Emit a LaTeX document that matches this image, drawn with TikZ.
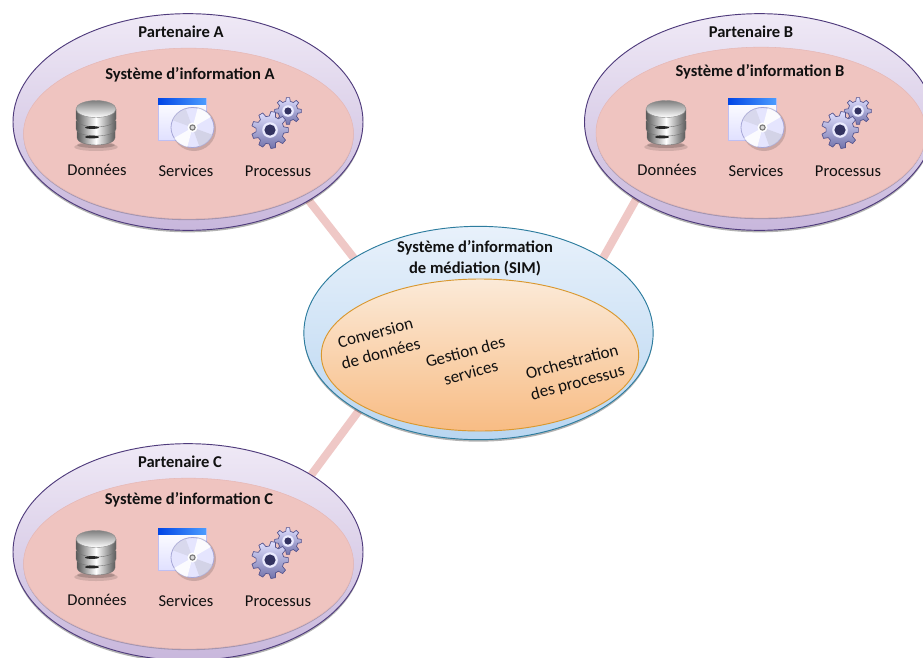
\documentclass[tikz,border=0pt]{standalone}
\usepackage{fontspec}
\setmainfont{Carlito}
\usetikzlibrary{shapes.geometric,shadows,backgrounds}
\definecolor{linkpink}{HTML}{EFC8C6}
\definecolor{purpleedge}{HTML}{4F3B7C}
\definecolor{purpletop}{HTML}{EFE9F6}
\definecolor{purplebot}{HTML}{C8B7DC}
\definecolor{pinkfill}{HTML}{EFC4C0}
\definecolor{pinkedge}{HTML}{E6B8B6}
\definecolor{blueedge}{HTML}{2C7C9E}
\definecolor{bluetop}{HTML}{E8F1FB}
\definecolor{bluebot}{HTML}{B9D6F1}
\definecolor{orangeedge}{HTML}{D9982F}
\definecolor{orangetop}{HTML}{FBEAD8}
\definecolor{orangebot}{HTML}{F8BC84}
\definecolor{inktext}{HTML}{111111}
\tikzset{
  outerell/.style={shape=ellipse,inner sep=0pt,outer sep=0pt,minimum width=262.5pt,minimum height=162.5pt,
    draw=purpleedge,line width=0.7pt,top color=purpletop,bottom color=purplebot,
    drop shadow={shadow xshift=0pt,shadow yshift=-1.5pt,opacity=.3,fill=black}},
  innerell/.style={shape=ellipse,inner sep=0pt,outer sep=0pt,minimum width=247.5pt,minimum height=128pt,
    draw=pinkedge,line width=0.4pt,fill=pinkfill,
    drop shadow={shadow xshift=0pt,shadow yshift=-1pt,opacity=.2,fill=black}},
  simouter/.style={shape=ellipse,inner sep=0pt,outer sep=0pt,minimum width=262pt,minimum height=160pt,
    draw=blueedge,line width=0.7pt,top color=bluetop,bottom color=bluebot,
    drop shadow={shadow xshift=0pt,shadow yshift=-1.5pt,opacity=.3,fill=black}},
  siminner/.style={shape=ellipse,inner sep=0pt,outer sep=0pt,minimum width=238pt,minimum height=114pt,
    draw=orangeedge,line width=0.7pt,top color=orangetop,bottom color=orangebot},
  linkbar/.style={draw=linkpink,line width=6pt},
  boldlabel/.style={font=\fontsize{12.4}{15.8}\selectfont\bfseries,text=inktext,align=center,inner sep=0pt},
  plainlabel/.style={font=\fontsize{12.4}{15.8}\selectfont,text=inktext,align=center,inner sep=0pt},
  simlabel/.style={font=\fontsize{12.8}{16}\selectfont,text=inktext,align=center,inner sep=0pt,rotate=15},
  band/.style={left color=black!65,right color=black!65,middle color=white,draw=black!55,line width=0.3pt},
  dbicon/.pic={
    \fill[black,opacity=.12] (0,24) ellipse [x radius=22,y radius=4];
    \fill[black,opacity=.18] (0,22) ellipse [x radius=19,y radius=3];
    \path[band] (-19,8) -- (-19,15) arc[start angle=180,end angle=0,x radius=19,y radius=7] -- (19,8) -- cycle;
    \path[band] (-20,-2) -- (-20,6) arc[start angle=180,end angle=0,x radius=20,y radius=7] -- (20,-2) -- cycle;
    \path[band] (-20,-14) -- (-20,-4) arc[start angle=180,end angle=0,x radius=20,y radius=8] -- (20,-14) -- cycle;
    \fill[black!85] (-4,4.5) ellipse [x radius=7,y radius=1.4];
    \fill[black!85] (-4,14) ellipse [x radius=7,y radius=1.4];
    \path[draw=black!45,line width=0.3pt,top color=black!50,bottom color=white] (0,-14) ellipse [x radius=20,y radius=8.5];
  },
  svcicon/.pic={
    \path[draw=black!20!blue!25,line width=0.5pt,top color=white,bottom color=blue!12,fill=white] (-24,-21) rectangle (24,21);
    \path[left color=blue!70!cyan!90!black,right color=blue!55!cyan!70] (-24,-21) rectangle (24,-15);
    \fill[black,opacity=.15] (12,10) circle [radius=22];
    \path[draw=black!45!blue!35,line width=0.6pt,fill=black!5!blue!10] (10.5,8.5) ellipse [x radius=21.5,y radius=20];
    \begin{scope}
      \clip (10.5,8.5) ellipse [x radius=21.5,y radius=20];
      \fill[white,opacity=.85] (10.5,8.5) -- ++(-75:26) arc[start angle=-75,end angle=-30,radius=26] -- cycle;
      \fill[white,opacity=.85] (10.5,8.5) -- ++(105:26) arc[start angle=105,end angle=150,radius=26] -- cycle;
      \fill[blue!35!black!20,opacity=.7] (10.5,8.5) -- ++(20:26) arc[start angle=20,end angle=70,radius=26] -- cycle;
      \fill[blue!35!black!20,opacity=.5] (10.5,8.5) -- ++(200:26) arc[start angle=200,end angle=250,radius=26] -- cycle;
    \end{scope}
    \fill[white] (10.5,8.5) circle [radius=5];
    \draw[black!50,line width=0.9pt,fill=black!15] (10.5,8.5) circle [radius=2.6];
  },
  gearicon/.pic={
    \gearfig{18}{-19}{13.5}{10}{45}{4}
    \gearfig{0}{0}{18.5}{14}{40}{6}
  },
}
\newcommand\gearfig[6]{%
  \begin{scope}[shift={(#1,#2)}]
    \path[draw=black!35!blue!35!gray,line width=0.5pt,top color=blue!12!white,bottom color=blue!40!black!55]
      (-13:#4) \foreach \a in {0,#5,...,359} { -- (\a-13:#4) -- (\a-7:#3) -- (\a+7:#3) -- (\a+13:#4) } -- cycle;
    \fill[blue!8!white] (0,0) circle [radius=#6+1.8];
    \fill[black!70!blue!60!gray] (0,0) circle [radius=#6-0.4];
  \end{scope}}
\newcommand\partnerblock[7]{%
  % #1 letter, #2 shift, #3 outer centre, #4 inner centre, #5 title pos, #6 system pos, #7 unused id
  \begin{scope}[shift={#2}]
    \node[outerell] (outer#1) at #3 {};
    \node[innerell] (inner#1) at #4 {};
    \node[boldlabel] (title#1) at #5 {Partenaire #1};
    \node[boldlabel] (sys#1) at #6 {Système d’information #1};
    \pic (db#1) at (96,123) {dbicon};
    \pic (svc#1) at (182,119) {svcicon};
    \pic (gear#1) at (270,130) {gearicon};
    \node[plainlabel] (data#1) at (97,170) {Données};
    \node[plainlabel] (serv#1) at (186,171) {Services};
    \node[plainlabel] (proc#1) at (278,171) {Processus};
  \end{scope}}
\begin{document}
\begin{tikzpicture}[x=0.75pt,y=-0.75pt]
  \useasboundingbox (0,0) rectangle (923,657);
  \clip (0,0) rectangle (923,657);
  \partnerblock{A}{(0,0)}{(188,122)}{(188.5,133.5)}{(181,32)}{(190,75)}{}
  \partnerblock{B}{(570,0)}{(189.5,122)}{(191,132.5)}{(181,32)}{(190,72)}{}
  \partnerblock{C}{(0,430)}{(188,122)}{(188.5,133.5)}{(180,32)}{(189,70)}{}
  \node[simouter] (sim) at (478.5,333) {};
  \node[siminner] (core) at (480,355) {};
  \node[boldlabel] (simtitle) at (475,258) {Système d’information\\de médiation (SIM)};
  \node[simlabel] (conv) at (378,343) {Conversion\\de données};
  \node[simlabel] (gest) at (468,362) {Gestion des\\services};
  \node[simlabel] (orch) at (575,373) {Orchestration\\des processus};
  \begin{scope}[on background layer]
    \fill[white] (0,0) rectangle (923,657);
    \draw[linkbar] (outerA.-33.6) -- (sim.149.7);
    \draw[linkbar] (outerB.212.9) -- (sim.31.6);
    \draw[linkbar] (outerC.32.2) -- (sim.213.3);
  \end{scope}
\end{tikzpicture}
\end{document}
